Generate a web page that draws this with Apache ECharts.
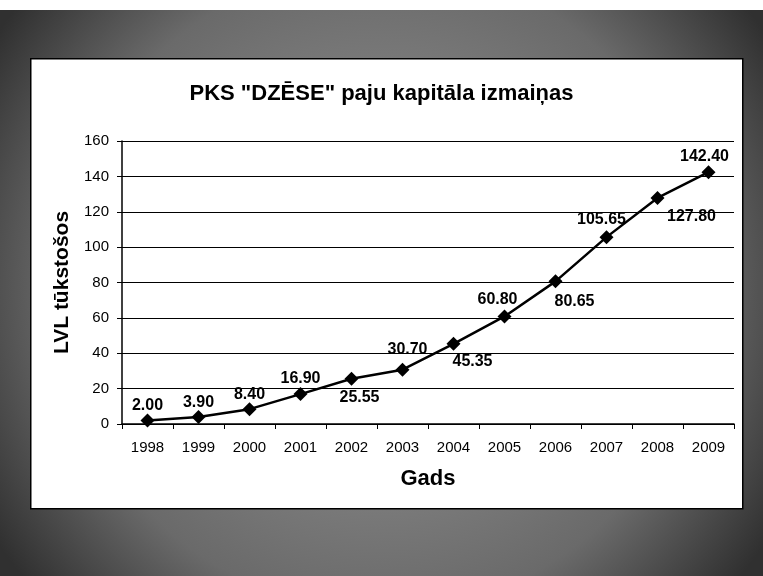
<!DOCTYPE html>
<html>
<head>
<meta charset="utf-8">
<script src="https://cdn.jsdelivr.net/npm/echarts@6/dist/echarts.min.js"></script>
<style>
html,body{margin:0;padding:0;background:#7a7a7a;}
#c{width:763px;height:576px;}
</style>
</head>
<body>
<div id="c"></div>
<script>
const years = ['1998','1999','2000','2001','2002','2003','2004','2005','2006','2007','2008','2009'];
const capital = [2.00, 3.90, 8.40, 16.90, 25.55, 30.70, 45.35, 60.80, 80.65, 105.65, 127.80, 142.40];
const yTicks = [0, 20, 40, 60, 80, 100, 120, 140, 160];

// label placement (style only)
const labelOffsets = [[0,-15],[0,-15],[0,-15],[0,-16],[8,19],[5,-20],[19,18],[-7,-17],[19,20],[-5,-18],[34,19],[-4,-16]];

const chart = echarts.init(document.getElementById('c'), null, {renderer:'canvas'});
const font = 'Arial, "Liberation Sans", sans-serif';

chart.setOption({
  backgroundColor: {
    type: 'radial', x: 0.5, y: 0.5, r: 0.8,
    colorStops: [{offset:0, color:'#9a9a9a'},{offset:0.7, color:'#6a6a6a'},{offset:1, color:'#303030'}]
  },
  animation: false,
  graphic: [
    {type:'rect', left:0, top:0, shape:{width:763, height:10}, style:{fill:'#ffffff'}, z:-2},
    {type:'rect', left:30, top:58, shape:{width:712, height:450}, style:{fill:'#ffffff', stroke:'#000', lineWidth:1.5}, z:-1}
  ],
  title: {
    text: 'PKS "DZĒSE" paju kapitāla izmaiņas',
    left: 'center', top: 78,
    textStyle: {fontFamily: font, fontSize: 22, fontWeight: 'bold', color: '#000'}
  },
  grid: {left: 122, right: 29, top: 141, bottom: 152, containLabel: false},
  xAxis: {
    type: 'category',
    data: years,
    boundaryGap: true,
    name: 'Gads',
    nameLocation: 'middle',
    nameGap: 44,
    nameTextStyle: {fontFamily: font, fontSize: 22, fontWeight: 'bold', color: '#000'},
    axisLine: {lineStyle: {color: '#000', width: 1.5}},
    axisTick: {show: true, alignWithLabel: false, length: 5, lineStyle: {color: '#000'}},
    axisLabel: {fontFamily: font, fontSize: 15, color: '#000', margin: 16}
  },
  yAxis: {
    type: 'value',
    min: yTicks[0], max: yTicks[yTicks.length-1], interval: 20,
    name: 'LVL tūkstošos',
    nameLocation: 'middle',
    nameGap: 48,
    nameRotate: 90,
    nameTextStyle: {fontFamily: font, fontSize: 21, fontWeight: 'bold', color: '#000'},
    axisLine: {show: true, lineStyle: {color: '#000', width: 1.5}},
    axisTick: {show: true, length: 5, lineStyle: {color: '#000'}},
    axisLabel: {fontFamily: font, fontSize: 15, color: '#000', margin: 13},
    splitLine: {show: true, lineStyle: {color: '#000', width: 1}}
  },
  series: [{
    type: 'line',
    data: capital.map((v, i) => ({
      value: v,
      label: {offset: labelOffsets[i]}
    })),
    symbol: 'diamond',
    symbolSize: 14,
    lineStyle: {color: '#000', width: 2.5},
    itemStyle: {color: '#000'},
    label: {
      show: true,
      position: 'inside',
      formatter: p => p.value.toFixed(2),
      fontFamily: font, fontSize: 16, fontWeight: 'bold', color: '#000'
    }
  }]
});
</script>
</body>
</html>
